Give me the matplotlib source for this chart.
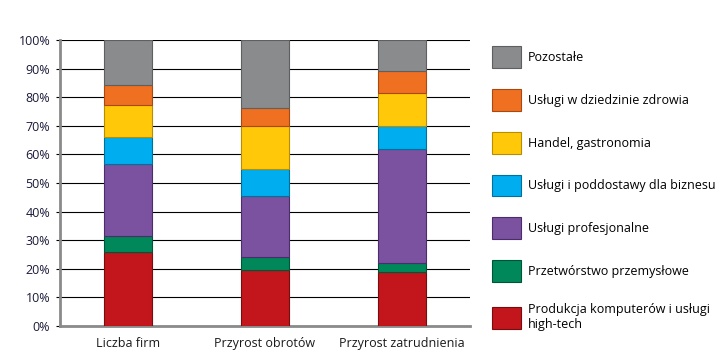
import numpy as np
import matplotlib
matplotlib.use('Agg')
import matplotlib.pyplot as plt
from matplotlib.patches import Patch

plt.rcParams['font.family'] = ['Open Sans', 'DejaVu Sans']

# data (shares in %, bottom to top)
categories = ['Liczba firm', 'Przyrost obrotów', 'Przyrost zatrudnienia']
series_names = ['Produkcja komputerów i usługi\nhigh-tech',
                'Przetwórstwo przemysłowe',
                'Usługi profesjonalne',
                'Usługi i poddostawy dla biznesu',
                'Handel, gastronomia',
                'Usługi w dziedzinie zdrowia',
                'Pozostałe']
high_tech = [26.0, 19.6, 18.8]
przetworstwo = [5.5, 4.4, 3.1]
profesjonalne = [25.0, 21.6, 39.9]
biznes = [9.7, 9.2, 8.2]
handel = [11.1, 15.2, 11.6]
zdrowie = [7.0, 6.1, 7.7]
pozostale = [15.7, 23.9, 10.7]
series = [high_tech, przetworstwo, profesjonalne, biznes, handel, zdrowie, pozostale]
colors = ['#c3161c', '#00885a', '#7b52a0', '#00aeef', '#ffc90a', '#f07022', '#8a8b8d']
edges = ['#7a0b0f', '#005538', '#4a2d6a', '#00709c', '#b88e00', '#a84a10', '#5e5f61']

dpi = 100
fig = plt.figure(figsize=(7.2, 3.64), dpi=dpi)
ax = fig.add_axes([60/720, 1 - 326/364, 410/720, 286/364])

x = np.arange(len(categories))
bottom = np.zeros(len(categories))
for vals, c, ec in zip(series, colors, edges):
    ax.bar(x, vals, 0.35, bottom=bottom, color=c, edgecolor=ec, linewidth=0.8, zorder=3)
    bottom += np.array(vals)

ax.set_xlim(-0.5, 2.5)
ax.set_ylim(0, 100)
ax.set_yticks(np.arange(0, 101, 10))
ax.set_yticklabels(['{}%'.format(v) for v in range(0, 101, 10)], fontsize=9, color='#1a1a3a')
ax.set_xticks(x)
ax.set_xticklabels(categories, fontsize=9, color='#1a1a1a')
ax.tick_params(axis='x', length=0, pad=8)
ax.tick_params(axis='y', length=3, width=0.8, color='black', pad=4)
ax.yaxis.grid(True, color='black', linewidth=0.8, zorder=0)
ax.set_axisbelow(True)
for s in ['top', 'right']:
    ax.spines[s].set_visible(False)
for s in ['left', 'bottom']:
    ax.spines[s].set_color('#8a8a8a')
    ax.spines[s].set_linewidth(2)

handles = [Patch(facecolor=c, edgecolor=ec, linewidth=0.8) for c, ec in zip(colors, edges)]
leg = fig.legend(handles[::-1], series_names[::-1], loc='upper left',
                 bbox_to_anchor=(486/720, 1 - 40/364), frameon=False, fontsize=9,
                 handlelength=2.3, handleheight=2.3, labelspacing=1.68,
                 handletextpad=0.55, borderpad=0)

fig.savefig('out.png', dpi=dpi)
